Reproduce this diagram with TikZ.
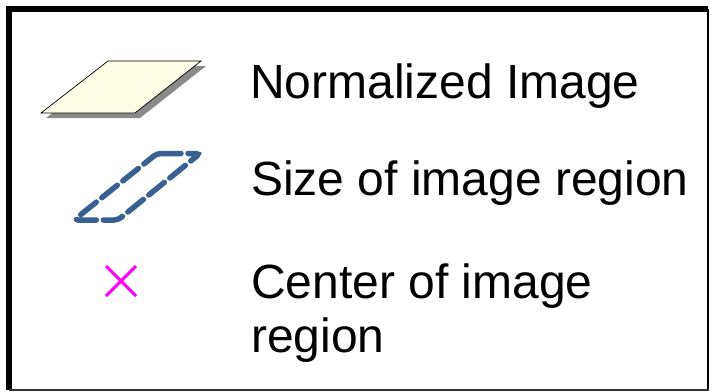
\documentclass[tikz,border=0pt]{standalone}
\usepackage{fontspec}
\setmainfont{Liberation Sans}
\begin{document}
\begin{tikzpicture}[x=1pt,y=-1pt,
  legendtext/.style={anchor=base west,inner sep=0pt,font=\fontsize{48}{54}\selectfont,align=left},
  regionline/.style={draw=regionblue,line width=5.5pt,dash pattern=on 20pt off 7pt,rounded corners=4pt,line cap=round}]
\definecolor{paper}{HTML}{FFFDE4}
\definecolor{regionblue}{HTML}{386192}
\definecolor{shadowgray}{HTML}{8A8A8A}
\definecolor{centermark}{HTML}{FF00FF}
\useasboundingbox (0,0) rectangle (712,391);
\fill[white] (0,0) rectangle (712,391);
% frame
\draw[line width=6pt] (6,9) -- (708,9);
\draw[line width=6pt] (9,6) -- (9,390);
\draw[line width=2pt] (708,9) -- (708,391);
\draw[line width=2pt,black!80] (9,390) -- (709,390);
% normalized image symbol with drop shadow
\fill[shadowgray] (113,66) -- (206,66) -- (140,118) -- (46,118) -- cycle;
\draw[fill=paper,line width=0.7pt] (108,61) -- (201,61) -- (135,113) -- (41,113) -- cycle;
% size of image region symbol
\draw[regionline] (157,153.5) -- (200,153.5) -- (118,220) -- (74,220) -- cycle;
% center of image region symbol
\draw[centermark,line width=3pt] (106,266) -- (136,296) (106,296) -- (136,266);
% labels (base anchor of a two-line node sits on its last line)
\node[legendtext] (lnorm) at (250,98) {Normalized Image};
\node[legendtext] (lsize) at (251,195) {Size of image region};
\node[legendtext] (lcenter) at (251,352) {Center of image\\region};
\end{tikzpicture}
\end{document}
